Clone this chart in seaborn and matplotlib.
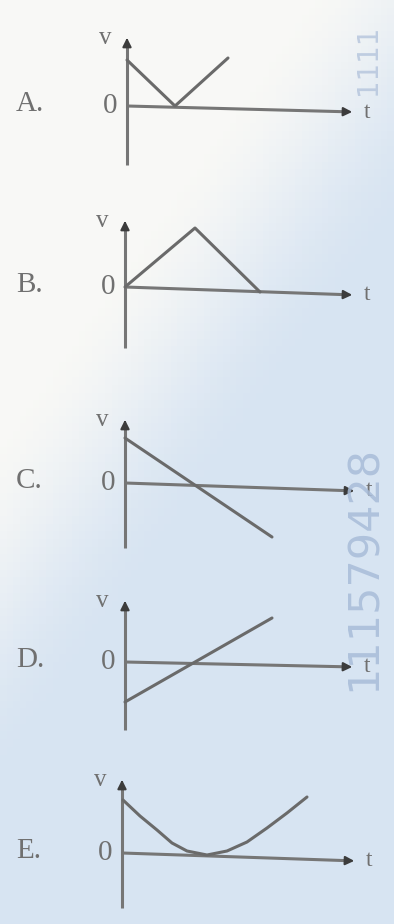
"""
Five small v-t sketches (answer choices A-E) from a photographed exam page
"""
import numpy as np
import pandas as pd
import seaborn as sns
import matplotlib.pyplot as plt

# choice letters
labels = ["A.", "B.", "C.", "D.", "E."]

# curve values (1 unit = 10 px, origin of each sketch at 0,0)
a_t = [0.0, 4.8, 10.1]
a_v = [4.6, 0.0, 4.8]

b_t = [0.0, 7.0, 13.5]
b_v = [0.0, 5.9, -0.5]

c_t = [0.0, 14.7]
c_v = [4.5, -5.4]

d_t = [0.0, 14.7]
d_v = [-4.0, 4.4]

e_t = [0.1, 1.8, 3.5, 5.0, 6.5, 8.5, 10.5, 12.5, 14.5, 16.5, 18.5]
e_v = [5.3, 3.7, 2.3, 1.0, 0.2, -0.2, 0.2, 1.1, 2.5, 4.0, 5.6]

watermark = "111579428"
watermark_top = "1111"

# sketch frames in pixels: origin x, origin y, top, bottom, right end, droop of t axis
W, H = 394, 924
frames = [
    (127, 106, 35, 165, 355, 6),
    (125, 287, 218, 348, 355, 8),
    (125, 483, 417, 548, 357, 8),
    (125, 662, 598, 730, 355, 5),
    (122, 853, 777, 908, 357, 8),
]

curves = [(a_t, a_v), (b_t, b_v), (c_t, c_v), (d_t, d_v), (e_t, e_v)]

LINE = "#6a6a6a"
AXIS = "#767676"
HEAD = "#3c3c3c"
TEXT = "#707070"

sns.set_theme(style="white")
plt.rcParams["font.family"] = ["Liberation Serif", "DejaVu Serif"]

fig = plt.figure(figsize=(W / 100, H / 100), dpi=100)

# photo-like paper background: white top-left fading to pale blue
bg = fig.add_axes([0, 0, 1, 1], zorder=-10)
yy, xx = np.mgrid[0:1:120j, 0:1:60j]
s = np.clip((yy + 0.6 * xx - 0.45) / 0.4, 0, 1)
s = s * s * (3 - 2 * s)
white = np.array([0.975, 0.975, 0.965])
blue = np.array([0.845, 0.895, 0.95])
img = white[None, None, :] * (1 - s[..., None]) + blue[None, None, :] * s[..., None]
bg.imshow(img, extent=[0, 1, 0, 1], aspect="auto", origin="upper")
bg.set_axis_off()

# watermark digits running up the right edge
fig.text(364 / W, 1 - 568 / H, watermark, rotation=90, ha="center", va="center",
         fontsize=31, color="#a8bcd8", family="DejaVu Sans", alpha=0.85)
fig.text(368 / W, 1 - 60 / H, watermark_top, rotation=90, ha="center", va="center",
         fontsize=20, color="#b4c4dc", family="DejaVu Sans", alpha=0.8)

for (x0, y0, top, bottom, right, droop), (t, v), letter in zip(frames, curves, labels):
    ax = fig.add_axes([x0 / W, 1 - bottom / H, (right - x0) / W, (bottom - top) / H])
    ax.patch.set_alpha(0)
    xmax = (right - x0) / 10
    vmin, vmax = -(bottom - y0) / 10, (y0 - top) / 10
    ax.set_xlim(0, xmax)
    ax.set_ylim(vmin, vmax)
    ax.set_axis_off()

    # axes with arrow heads
    tend = -droop / 10
    ax.plot([0, 0], [vmin, vmax - 0.8], color=AXIS, lw=2.2, clip_on=False,
            solid_capstyle="butt")
    ax.plot([0, xmax - 0.8], [0, tend * (xmax - 0.8) / xmax], color=AXIS, lw=2.2,
            clip_on=False, solid_capstyle="butt")
    ax.annotate("", xy=(0, vmax), xytext=(0, vmax - 1.0),
                arrowprops=dict(arrowstyle="-|>", color=HEAD, lw=1.5, mutation_scale=13),
                annotation_clip=False)
    ax.annotate("", xy=(xmax, tend), xytext=(xmax - 1.0, tend * (xmax - 1.0) / xmax),
                arrowprops=dict(arrowstyle="-|>", color=HEAD, lw=1.5, mutation_scale=13),
                annotation_clip=False)

    df = pd.DataFrame({"t": t, "v": v})
    sns.lineplot(data=df, x="t", y="v", ax=ax, color=LINE, lw=2.2, sort=False,
                 estimator=None, clip_on=False)

    ax.text(-1.0, 0, "0", ha="right", va="center", fontsize=21, color=TEXT)
    ax.text(-1.6, vmax - 0.3, "v", ha="right", va="center", fontsize=18, color=TEXT)
    ax.text(xmax + 0.9, tend, "t", ha="left", va="center", fontsize=17, color=TEXT)
    fig.text(16 / W, 1 - (y0 - 2) / H, letter, ha="left", va="center", fontsize=21,
             color=TEXT)

plt.savefig("out.png", dpi=100)
